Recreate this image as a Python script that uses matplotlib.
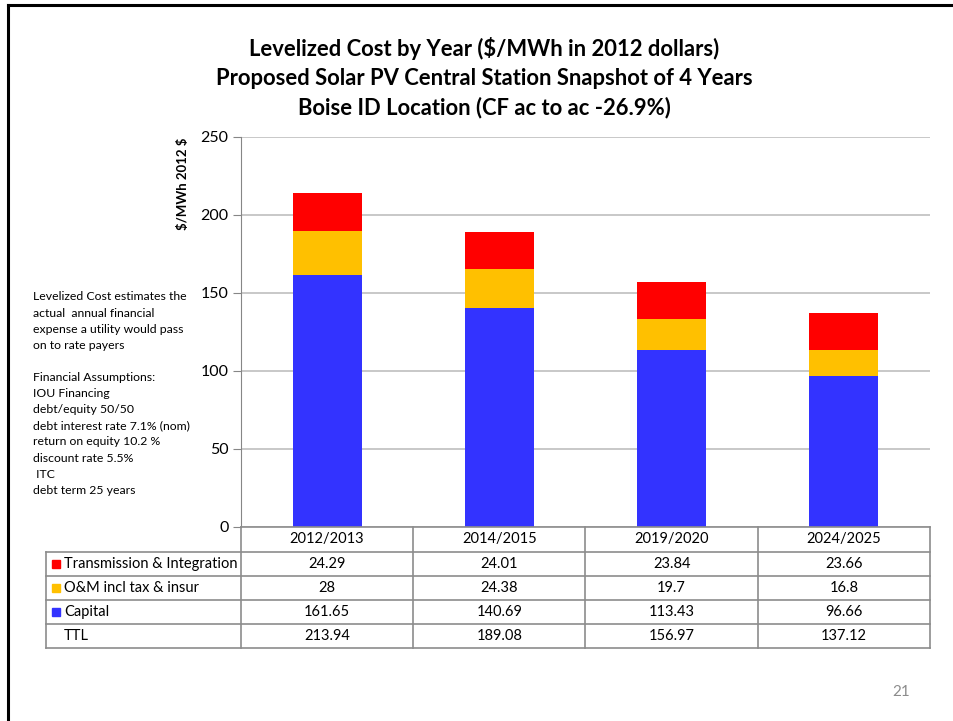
import numpy as np
import matplotlib
matplotlib.use('Agg')
import matplotlib.pyplot as plt
from matplotlib.patches import Rectangle
from matplotlib.lines import Line2D

plt.rcParams['font.family'] = ['Lato', 'DejaVu Sans']

# data
years = ['2012/2013', '2014/2015', '2019/2020', '2024/2025']
capital = [161.65, 140.69, 113.43, 96.66]
om = [28, 24.38, 19.7, 16.8]
trans = [24.29, 24.01, 23.84, 23.66]
ttl = [213.94, 189.08, 156.97, 137.12]
om_labels = ['28', '24.38', '19.7', '16.8']

series_names = ['Transmission & Integration', 'O&M incl tax & insur', 'Capital']
colors = ['#FF0000', '#FFC000', '#3333FF']

title = ('Levelized Cost by Year ($/MWh in 2012 dollars)\n'
         'Proposed Solar PV Central Station Snapshot of 4 Years\n'
         'Boise ID Location (CF ac to ac -26.9%)')

note = ['Levelized Cost estimates the', 'actual  annual financial',
        'expense a utility would pass', 'on to rate payers', '',
        'Financial Assumptions:', 'IOU Financing', 'debt/equity 50/50',
        'debt interest rate 7.1% (nom)', 'return on equity 10.2 %',
        'discount rate 5.5%', ' ITC', 'debt term 25 years']

W, H = 954, 721
fig = plt.figure(figsize=(W / 100, H / 100), dpi=100)


def fx(px):
    return px / W


def fy(py):
    return 1 - py / H


# slide border (top and left)
fig.add_artist(Line2D([fx(8), fx(8)], [fy(5), 0], color='black', lw=2.2))
fig.add_artist(Line2D([fx(8), 1], [fy(5), fy(5)], color='black', lw=2.2))

fig.text(fx(484), fy(78), title, ha='center', va='center', fontsize=15.8,
         fontweight='bold', linespacing=1.45, parse_math=False)

# chart axes
ax_l, ax_r, ax_t, ax_b = 241, 930, 137, 527
ax = fig.add_axes([fx(ax_l), fy(ax_b), fx(ax_r - ax_l), (ax_b - ax_t) / H])
x = np.arange(len(years))
cap = np.array(capital)
o = np.array(om)
t = np.array(trans)
ax.bar(x, cap, width=0.4, color=colors[2], zorder=3)
ax.bar(x, o, width=0.4, bottom=cap, color=colors[1], zorder=3)
ax.bar(x, t, width=0.4, bottom=cap + o, color=colors[0], zorder=3)
ax.set_xlim(-0.5, len(years) - 0.5)
ax.set_ylim(0, 250)
ax.set_yticks(range(0, 251, 50))
ax.set_xticks([])
ax.yaxis.grid(True, color='#BFBFBF', lw=1.2, zorder=0)
for s in ['top', 'right', 'bottom']:
    ax.spines[s].set_visible(False)
ax.spines['left'].set_color('#868686')
ax.tick_params(axis='y', length=6, color='#868686', labelsize=11.5, pad=3)
ax.set_ylabel('$/MWh 2012 $', fontsize=9.5, fontweight='bold', parse_math=False)
ax.yaxis.set_label_coords(-0.076, 0.88)

# data table
grid = '#8C8C8C'
lab_l = 46
col_w = (ax_r - ax_l) / len(years)
rows_y = [527, 552, 576, 600, 624, 648]
for i in range(len(years) + 1):
    xp = ax_l + i * col_w
    fig.add_artist(Line2D([fx(xp), fx(xp)], [fy(rows_y[0]), fy(rows_y[-1])], color=grid, lw=1.2))
fig.add_artist(Line2D([fx(lab_l), fx(lab_l)], [fy(rows_y[1]), fy(rows_y[-1])], color=grid, lw=1.2))
fig.add_artist(Line2D([fx(ax_l), fx(ax_r)], [fy(rows_y[0]), fy(rows_y[0])], color=grid, lw=1.2))
for yp in rows_y[1:]:
    fig.add_artist(Line2D([fx(lab_l), fx(ax_r)], [fy(yp), fy(yp)], color=grid, lw=1.2))

for i, yr in enumerate(years):
    fig.text(fx(ax_l + (i + 0.5) * col_w), fy((rows_y[0] + rows_y[1]) / 2), yr,
             ha='center', va='center', fontsize=10.5)

table_rows = [
    [f'{v:.2f}' for v in trans],
    om_labels,
    [f'{v:.2f}' for v in capital],
    [f'{v:.2f}' for v in ttl],
]
row_names = series_names + ['TTL']
for r in range(4):
    yc = fy((rows_y[r + 1] + rows_y[r + 2]) / 2)
    if r < 3:
        fig.add_artist(Rectangle((fx(52), yc - 4 / H), 8 / W, 8 / H,
                                 color=colors[r], transform=fig.transFigure))
    fig.text(fx(64), yc, row_names[r], ha='left', va='center', fontsize=10.5)
    for i in range(len(years)):
        fig.text(fx(ax_l + (i + 0.5) * col_w), yc, table_rows[r][i],
                 ha='center', va='center', fontsize=10.5)

# side note
for k, line in enumerate(note):
    fig.text(fx(33), fy(297 + k * 16.1), line, ha='left', va='center', fontsize=8.8)

fig.text(fx(901), fy(692), '21', ha='center', va='center', fontsize=11, color='#8C8C8C')

fig.savefig('out.png', dpi=100)
